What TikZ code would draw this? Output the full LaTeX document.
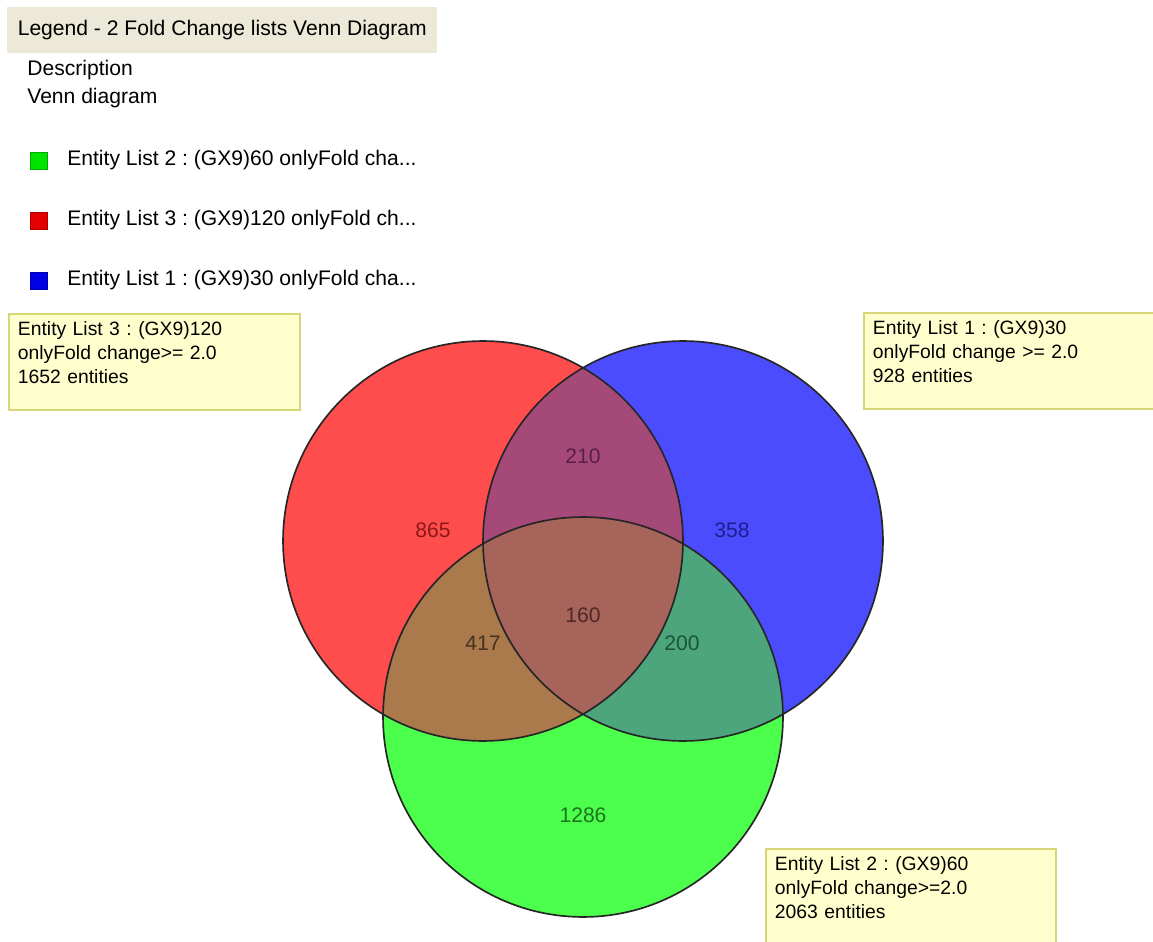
\documentclass[tikz,border=0pt]{standalone}
\usepackage{fontspec}
\setmainfont{Liberation Sans}
\frenchspacing
\definecolor{bandgray}{RGB}{236,233,216}
\definecolor{notefill}{RGB}{255,255,206}
\definecolor{noteline}{RGB}{214,214,120}
\definecolor{setR}{RGB}{255,76,76}
\definecolor{setB}{RGB}{76,76,255}
\definecolor{setG}{RGB}{76,255,76}
\definecolor{setRB}{RGB}{165,74,120}
\definecolor{setRG}{RGB}{170,121,76}
\definecolor{setBG}{RGB}{76,165,124}
\definecolor{setRBG}{RGB}{166,100,90}
\definecolor{keyR}{RGB}{228,0,0}
\definecolor{keyG}{RGB}{0,228,0}
\definecolor{keyB}{RGB}{0,0,228}
\definecolor{numR}{RGB}{140,25,25}
\definecolor{numB}{RGB}{30,30,140}
\definecolor{numG}{RGB}{30,115,30}
\definecolor{numRB}{RGB}{90,30,75}
\definecolor{numRG}{RGB}{70,50,30}
\definecolor{numBG}{RGB}{25,85,55}
\definecolor{numRBG}{RGB}{80,40,40}

\begin{document}
\begin{tikzpicture}[x=0.02cm,y=-0.02cm,
  ring/.style={draw=black!85,line width=0.95pt},
  cnt/.style={font=\fontsize{12}{14}\selectfont,inner sep=0pt},
  lg/.style={font=\fontsize{12}{14}\selectfont,anchor=base west,inner sep=0pt},
  band/.style={fill=bandgray,anchor=north west,inner sep=0pt,minimum width=8.6cm,
    minimum height=0.92cm,font=\fontsize{12}{14}\selectfont},
  key/.style={minimum size=0.34cm,inner sep=0pt,line width=0.6pt},
  note/.style={draw=noteline,fill=notefill,line width=1.1pt,anchor=north west,
    inner xsep=0.18cm,inner ysep=0pt,text width=#1,align=left,text height=0.44cm,
    text depth=1.48cm,font=\fontsize{11}{13.4}\selectfont}]
  \useasboundingbox (0,0) rectangle (1153,942);
  \clip (0,0) rectangle (1153,942);
  \fill[white] (0,0) rectangle (1153,942);
  % legend panel
  \node[band] (title) at (7,7) {Legend - 2 Fold Change lists Venn Diagram};
  \node[lg] (desc) at (27,76) {Description};
  \node[lg] (kind) at (27,104) {Venn diagram};
  \newcommand{\entry}[4]{%
    \node[key,fill=#2,draw=#2!75!black] (#1k) at (39,#3) {};
    \node[lg] (#1t) at (67,#3+5) {#4};}
  \entry{g}{keyG}{161}{Entity List 2 : (GX9)60 onlyFold cha...}
  \entry{r}{keyR}{221}{Entity List 3 : (GX9)120 onlyFold ch...}
  \entry{b}{keyB}{281}{Entity List 1 : (GX9)30 onlyFold cha...}
  % the three sets
  \coordinate (cR) at (483,541);
  \coordinate (cB) at (683,541);
  \coordinate (cG) at (583,717);
  \def\rad{4cm}
  \fill[setR] (cR) circle[radius=\rad];
  \fill[setB] (cB) circle[radius=\rad];
  \fill[setG] (cG) circle[radius=\rad];
  \begin{scope}
    \clip (cR) circle[radius=\rad];
    \fill[setRB] (cB) circle[radius=\rad];
    \fill[setRG] (cG) circle[radius=\rad];
  \end{scope}
  \begin{scope}
    \clip (cB) circle[radius=\rad];
    \fill[setBG] (cG) circle[radius=\rad];
  \end{scope}
  \begin{scope}
    \clip (cR) circle[radius=\rad];
    \clip (cB) circle[radius=\rad];
    \fill[setRBG] (cG) circle[radius=\rad];
  \end{scope}
  \foreach \c in {cR,cB,cG} \draw[ring] (\c) circle[radius=\rad];
  % region counts
  \foreach \nm/\px/\py/\v/\col in {r/433/530/865/numR, rb/583/456/210/numRB,
      b/732/530/358/numB, rbg/583/615/160/numRBG, rg/483/643/417/numRG,
      bg/682/643/200/numBG, g/583/815/1286/numG}
    \node[cnt,text=\col] (n\nm) at (\px,\py) {\v};
  % callouts
  \node[note=5.46cm] (boxR) at (8,313)
    {Entity List 3 : (GX9)120\\onlyFold change>= 2.0\\1652 entities};
  \node[note=6cm] (boxB) at (863,312)
    {Entity List 1 : (GX9)30\\onlyFold change >= 2.0\\928 entities};
  \node[note=5.44cm] (boxG) at (765,848)
    {Entity List 2 : (GX9)60\\onlyFold change>=2.0\\2063 entities};
\end{tikzpicture}
\end{document}
